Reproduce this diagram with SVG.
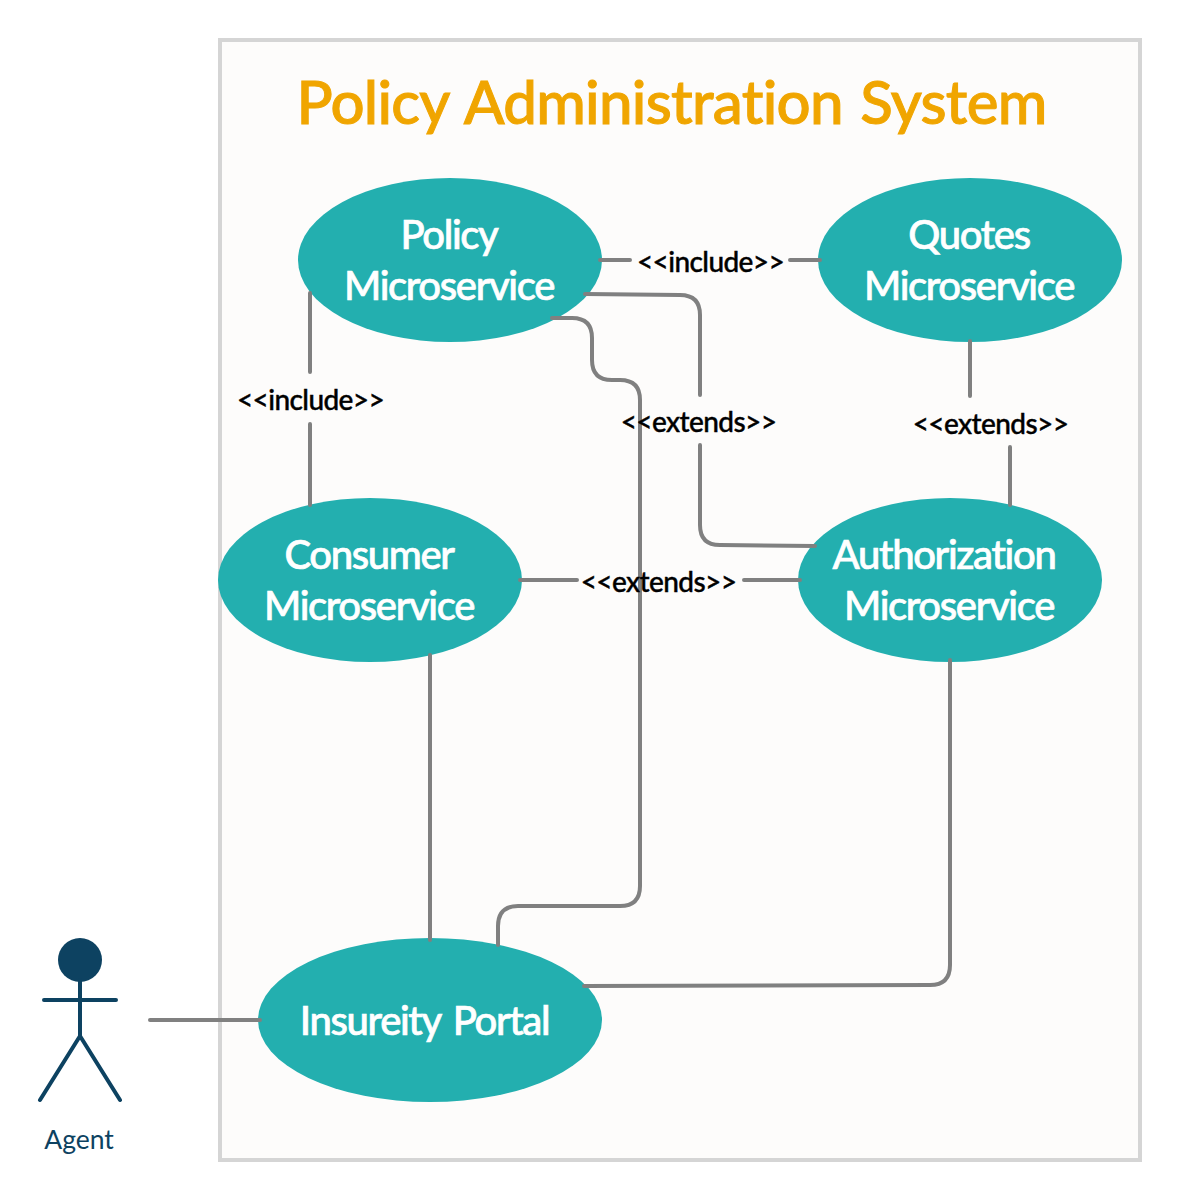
<svg xmlns="http://www.w3.org/2000/svg" width="1180" height="1200" viewBox="0 0 1180 1200">
<style>
text{font-family:"Lato","Liberation Sans",sans-serif}
.uc{fill:#23afaf}
.ut{fill:#fff;stroke:#fff;stroke-width:.7px;font-size:40px;font-weight:500;text-anchor:middle;letter-spacing:-1.35px;word-spacing:4px}
.c{fill:none;stroke:#808080;stroke-width:4;stroke-linecap:round}
.l{fill:#000;stroke:#000;stroke-width:.4px;font-size:28px;font-weight:500;text-anchor:middle;letter-spacing:-.6px}
.a{fill:none;stroke:#0d4261;stroke-width:4;stroke-linecap:round}
</style>
<rect width="1180" height="1200" fill="#fff"/>
<g id="system"><rect x="220" y="40" width="920" height="1120" fill="#fdfcfb" stroke="#d5d5d5" stroke-width="4"/>
<text x="671.500" y="124" font-size="60" font-weight="500" fill="#f0a500" stroke="#f0a500" stroke-width="1" letter-spacing="-.72" word-spacing="3" text-anchor="middle">Policy Administration System</text></g>
<g id="policy"><ellipse class="uc" cx="450" cy="260" rx="152" ry="82"/><text class="ut" x="449" y="249">Policy</text><text class="ut" x="449" y="300">Microservice</text></g>
<g id="quotes"><ellipse class="uc" cx="970" cy="260" rx="152" ry="82"/><text class="ut" x="969" y="249">Quotes</text><text class="ut" x="969" y="300">Microservice</text></g>
<g id="consumer"><ellipse class="uc" cx="370" cy="580" rx="152" ry="82"/><text class="ut" x="369" y="569">Consumer</text><text class="ut" x="369" y="620">Microservice</text></g>
<g id="authorization"><ellipse class="uc" cx="950" cy="580" rx="152" ry="82"/><text class="ut" x="944" y="569">Authorization</text><text class="ut" x="949" y="620">Microservice</text></g>
<g id="portal"><ellipse class="uc" cx="430" cy="1020" rx="172" ry="82"/><text class="ut" x="424.500" y="1035">Insureity Portal</text></g>
<g id="agent"><circle cx="80" cy="960" r="22" fill="#0d4261"/><path class="a" d="M80 980V1036M44 1000H116M80 1036L40 1100M80 1036L120 1100"/><text x="79" y="1149" font-size="26.5" fill="#0d4261" text-anchor="middle">Agent</text></g>
<g id="connectors">
<path class="c" d="M600 260H630M790 260H820"/>
<path class="c" d="M310 293V372M310 424V505"/>
<path class="c" d="M970 341V396M1010 447V505"/>
<path class="c" d="M520 580H577M744 580H800"/>
<path class="c" d="M585 294L680 295Q700 295 700 315V395M700 445V525Q700 545 720 545L815 546"/>
<path class="c" d="M552 318H572Q592 318 592 338V360Q592 380 612 380H620Q640 380 640 400V886Q640 906 620 906L518 906Q498 906 498 926V945"/>
<path class="c" d="M430 655V940"/>
<path class="c" d="M584 986L930 985Q950 985 950 965V660"/>
<path class="c" d="M150 1020H260"/>
</g>
<g id="labels">
<text class="l" x="710.500" y="272">&lt;&lt;include&gt;&gt;</text>
<text class="l" x="310.500" y="410">&lt;&lt;include&gt;&gt;</text>
<text class="l" x="698.500" y="432">&lt;&lt;extends&gt;&gt;</text>
<text class="l" x="990.500" y="434">&lt;&lt;extends&gt;&gt;</text>
<text class="l" x="658.500" y="592">&lt;&lt;extends&gt;&gt;</text>
</g>
</svg>
